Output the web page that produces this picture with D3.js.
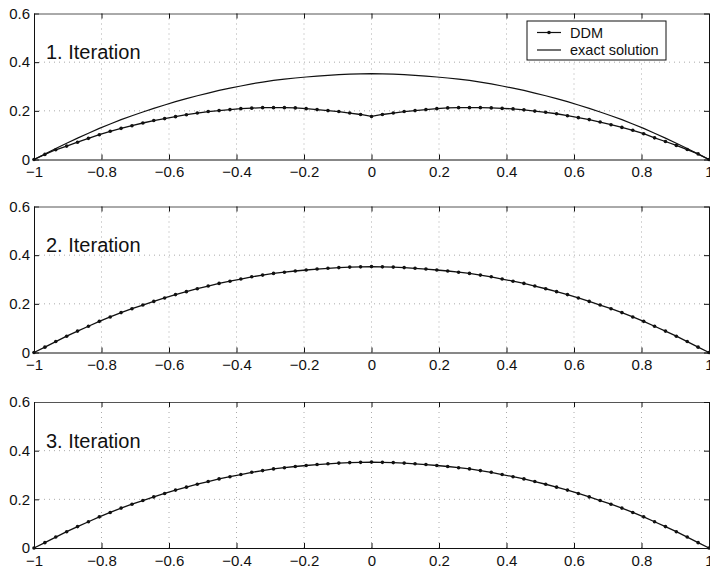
<!DOCTYPE html>
<html>
<head>
<meta charset="utf-8">
<script src="https://cdnjs.cloudflare.com/ajax/libs/d3/7.8.5/d3.min.js"></script>
<style>
  body { margin: 0; background: #fff; }
  svg { display: block; }
  text { font-family: "Liberation Sans", Arial, Helvetica, sans-serif; fill: #111; }
</style>
</head>
<body>
<div class="root"></div>
<script>

// grid of the DDM nodes (62 intervals on [-1, 1])
var nodeCount = 63;
var xNodes = d3.range(nodeCount).map(function (i) { return -1 + i / 31; });

var exactSolution = [
  0, 0.022, 0.045, 0.067, 0.088, 0.108, 0.128, 0.146, 0.164, 0.180,
  0.195, 0.210, 0.224, 0.238, 0.250, 0.262, 0.273, 0.284, 0.293, 0.302,
  0.311, 0.318, 0.325, 0.330, 0.335, 0.339, 0.343, 0.346, 0.349, 0.351,
  0.352, 0.353,
  0.352, 0.351, 0.349, 0.346, 0.343, 0.339, 0.335, 0.330, 0.325, 0.318,
  0.311, 0.302, 0.293, 0.284, 0.273, 0.262, 0.250, 0.238, 0.224, 0.210,
  0.195, 0.180, 0.164, 0.146, 0.128, 0.108, 0.088, 0.067, 0.045, 0.022, 0
];

var ddmIter1 = [
  0, 0.021, 0.040, 0.055, 0.071, 0.087, 0.102, 0.116, 0.128, 0.139,
  0.150, 0.160, 0.168, 0.176, 0.184, 0.191, 0.197, 0.201, 0.205, 0.209,
  0.211, 0.213, 0.213, 0.213, 0.212, 0.209, 0.205, 0.201, 0.197, 0.191,
  0.185, 0.177,
  0.185, 0.191, 0.197, 0.201, 0.205, 0.209, 0.212, 0.213, 0.213, 0.213,
  0.212, 0.210, 0.208, 0.204, 0.199, 0.194, 0.188, 0.180, 0.172, 0.164,
  0.154, 0.143, 0.132, 0.120, 0.106, 0.089, 0.074, 0.058, 0.041, 0.023, 0
];

var ddmIter2 = [
  0, 0.022, 0.045, 0.067, 0.088, 0.108, 0.128, 0.146, 0.164, 0.180,
  0.195, 0.210, 0.224, 0.238, 0.250, 0.262, 0.273, 0.284, 0.293, 0.302,
  0.311, 0.318, 0.325, 0.330, 0.335, 0.339, 0.343, 0.346, 0.349, 0.351,
  0.352, 0.353,
  0.352, 0.351, 0.349, 0.346, 0.343, 0.339, 0.335, 0.330, 0.325, 0.318,
  0.311, 0.302, 0.293, 0.284, 0.273, 0.262, 0.250, 0.238, 0.224, 0.210,
  0.195, 0.180, 0.164, 0.146, 0.128, 0.108, 0.088, 0.067, 0.045, 0.022, 0
];

var ddmIter3 = [
  0, 0.022, 0.045, 0.067, 0.088, 0.108, 0.128, 0.146, 0.164, 0.180,
  0.195, 0.210, 0.224, 0.238, 0.250, 0.262, 0.273, 0.284, 0.293, 0.302,
  0.311, 0.318, 0.325, 0.330, 0.335, 0.339, 0.343, 0.346, 0.349, 0.351,
  0.352, 0.353,
  0.352, 0.351, 0.349, 0.346, 0.343, 0.339, 0.335, 0.330, 0.325, 0.318,
  0.311, 0.302, 0.293, 0.284, 0.273, 0.262, 0.250, 0.238, 0.224, 0.210,
  0.195, 0.180, 0.164, 0.146, 0.128, 0.108, 0.088, 0.067, 0.045, 0.022, 0
];

var panelTitles = ["1. Iteration", "2. Iteration", "3. Iteration"];
var panelDDM = [ddmIter1, ddmIter2, ddmIter3];
var xTicks = [-1, -0.8, -0.6, -0.4, -0.2, 0, 0.2, 0.4, 0.6, 0.8, 1];
var yTicks = [0, 0.2, 0.4, 0.6];
var legendLabels = ["DDM", "exact solution"];

// DATA ONLY ^^^

var width = 710, height = 572;
var plotLeft = 34, plotRight = 709;
var panelTops = [13.5, 206.5, 402];
var panelHeight = 146;

var svg = d3.select('.root')
            .append('svg')
            .attr("width", width)
            .attr("height", height);

var x = d3.scaleLinear().domain([-1, 1]).range([plotLeft, plotRight]);

function tickText(d) {
  return d === Math.round(d) ? d3.format("d")(d) : d3.format(".1f")(d);
}

panelTitles.forEach(function (title, p) {
  var top = panelTops[p];
  var y = d3.scaleLinear().domain([0, 0.6]).range([top + panelHeight, top]);
  var g = svg.append('g');

  // dotted grid
  g.append('g').selectAll('line')
   .data(xTicks.slice(1, -1))
   .enter().append('line')
   .attr("x1", function (d) { return x(d); })
   .attr("x2", function (d) { return x(d); })
   .attr("y1", y(0)).attr("y2", y(0.6))
   .attr("stroke", "#aaa").attr("stroke-width", 1)
   .attr("stroke-dasharray", "1,4");

  g.append('g').selectAll('line')
   .data(yTicks.slice(1, -1))
   .enter().append('line')
   .attr("y1", function (d) { return y(d); })
   .attr("y2", function (d) { return y(d); })
   .attr("x1", plotLeft).attr("x2", plotRight)
   .attr("stroke", "#aaa").attr("stroke-width", 1)
   .attr("stroke-dasharray", "1,4");

  // axes, ticks pointing inwards
  var bottom = g.append('g')
                .attr("transform", "translate(0," + y(0) + ")")
                .call(d3.axisBottom(x).tickValues(xTicks).tickSize(-5).tickSizeOuter(0)
                        .tickPadding(7).tickFormat(tickText));
  var left = g.append('g')
              .attr("transform", "translate(" + plotLeft + ",0)")
              .call(d3.axisLeft(y).tickValues(yTicks).tickSize(-5).tickSizeOuter(0)
                      .tickPadding(4).tickFormat(tickText));
  var topAxis = g.append('g')
                 .attr("transform", "translate(0," + y(0.6) + ")")
                 .call(d3.axisTop(x).tickValues(xTicks).tickSize(-5).tickSizeOuter(0).tickFormat(""));
  var rightAxis = g.append('g')
                   .attr("transform", "translate(" + plotRight + ",0)")
                   .call(d3.axisRight(y).tickValues(yTicks).tickSize(-5).tickSizeOuter(0).tickFormat(""));

  [bottom, left, topAxis, rightAxis].forEach(function (a) {
    a.selectAll('path, line').attr("stroke", "#111");
    a.selectAll('text').style("font-size", "15px").attr("fill", "#111");
  });
  topAxis.select('path').attr("stroke", "#555");

  var line = d3.line()
               .x(function (d, i) { return x(xNodes[i]); })
               .y(function (d) { return y(d); });

  if (p === 0) {
    g.append('path')
     .datum(exactSolution)
     .attr("d", line)
     .attr("fill", "none")
     .attr("stroke", "#111")
     .attr("stroke-width", 1.2);
  }

  g.append('path')
   .datum(panelDDM[p])
   .attr("d", line)
   .attr("fill", "none")
   .attr("stroke", "#111")
   .attr("stroke-width", 1.3);

  g.append('g').selectAll('circle')
   .data(panelDDM[p])
   .enter().append('circle')
   .attr("cx", function (d, i) { return x(xNodes[i]); })
   .attr("cy", function (d) { return y(d); })
   .attr("r", 1.8)
   .attr("fill", "#111");

  g.append('text')
   .attr("x", 46)
   .attr("y", top + 45.5)
   .style("font-size", "20px")
   .text(title);

  if (p === 0) {
    var legend = g.append('g').attr("transform", "translate(527," + (top + 7.5) + ")");
    legend.append('rect')
          .attr("width", 139).attr("height", 39)
          .attr("fill", "#fff").attr("stroke", "#111").attr("stroke-width", 1);
    legendLabels.forEach(function (label, k) {
      var ly = 11.5 + k * 17.5;
      legend.append('line')
            .attr("x1", 10).attr("x2", 34).attr("y1", ly).attr("y2", ly)
            .attr("stroke", "#111").attr("stroke-width", 1.2);
      if (k === 0) {
        legend.append('circle').attr("cx", 22).attr("cy", ly).attr("r", 1.8).attr("fill", "#111");
      }
      legend.append('text')
            .attr("x", 43).attr("y", ly + 5)
            .style("font-size", "14.5px")
            .text(label);
    });
  }
});

</script>
</body>
</html>
